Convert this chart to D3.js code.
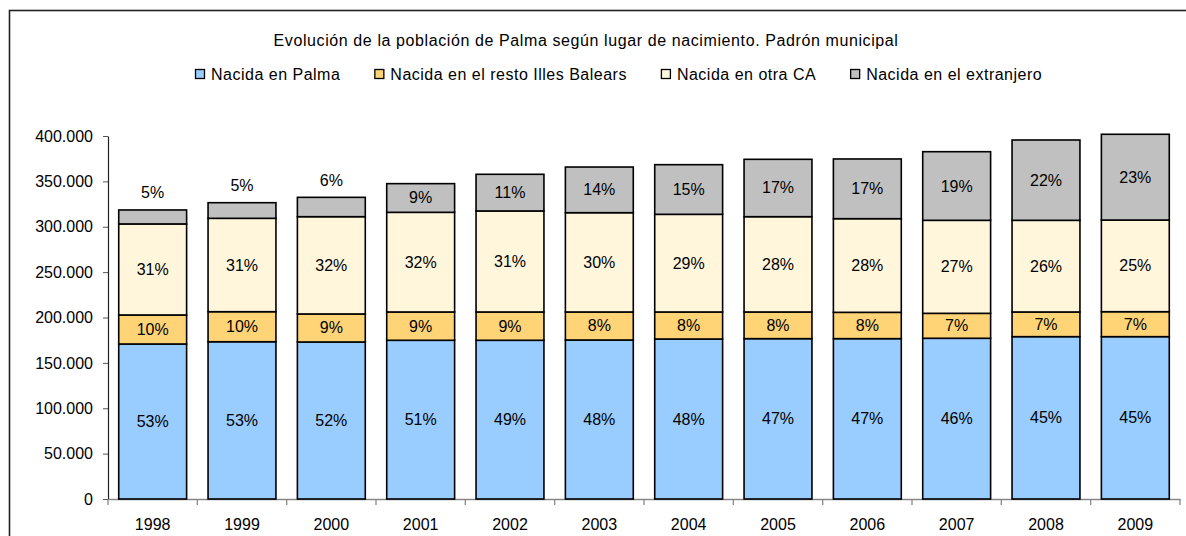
<!DOCTYPE html>
<html>
<head>
<meta charset="utf-8">
<script src="https://cdn.jsdelivr.net/npm/d3@7"></script>
<style>
  body { margin: 0; background: #fff; }
  text { font-family: "Liberation Sans", Arial, sans-serif; fill: #000; }
</style>
</head>
<body>
<div id="chart"></div>
<script>
// Plot constants
const WIDTH = 1186;
const HEIGHT = 536;

// data (inhabitants)
const years = ["1998", "1999", "2000", "2001", "2002", "2003", "2004", "2005", "2006", "2007", "2008", "2009"];
const palma = [170800, 173300, 173000, 174900, 174900, 175200, 176300, 176700, 176700, 177100, 178900, 178900];
const baleares = [32000, 33100, 30900, 31200, 31200, 30900, 29800, 29400, 29000, 27500, 27200, 27500];
const otraCA = [100300, 102900, 107200, 109800, 111300, 109400, 107600, 105000, 103200, 102500, 101000, 101000];
const extranjero = [15400, 17200, 21300, 31600, 40400, 50300, 54700, 63200, 65800, 75600, 88500, 94500];

// percent labels as printed in the chart
const pctPalma = [53, 53, 52, 51, 49, 48, 48, 47, 47, 46, 45, 45];
const pctBaleares = [10, 10, 9, 9, 9, 8, 8, 8, 8, 7, 7, 7];
const pctOtraCA = [31, 31, 32, 32, 31, 30, 29, 28, 28, 27, 26, 25];
const pctExtranjero = [5, 5, 6, 9, 11, 14, 15, 17, 17, 19, 22, 23];

const yTicks = [0, 50000, 100000, 150000, 200000, 250000, 300000, 350000, 400000];

const title = "Evolución de la población de Palma según lugar de nacimiento. Padrón municipal";
const series = [
  {key: "palma", name: "Nacida en Palma", color: "#99CCFF", values: palma, pct: pctPalma},
  {key: "baleares", name: "Nacida en el resto Illes Balears", color: "#FFD477", values: baleares, pct: pctBaleares},
  {key: "otraCA", name: "Nacida en otra CA", color: "#FFF6DC", values: otraCA, pct: pctOtraCA},
  {key: "extranjero", name: "Nacida en el extranjero", color: "#C0C0C0", values: extranjero, pct: pctExtranjero},
];

const rows = years.map((yr, i) => {
  const r = {year: yr};
  series.forEach((s) => (r[s.key] = s.values[i]));
  return r;
});

const svg = d3
  .select("#chart")
  .append("svg")
  .attr("width", WIDTH)
  .attr("height", HEIGHT);

// frame of the chart area
svg.append("rect")
  .attr("x", 9.5)
  .attr("y", 10.5)
  .attr("width", WIDTH + 20)
  .attr("height", HEIGHT + 20)
  .attr("fill", "none")
  .attr("stroke", "#222")
  .attr("stroke-width", 1.6);

// scales
const x = d3.scaleBand()
  .domain(years)
  .range([108, 1180])
  .paddingInner(0.24)
  .paddingOuter(0.12);

const y = d3.scaleLinear().domain([0, 400000]).range([499, 136]);

const locale = d3.formatLocale({decimal: ",", thousands: ".", grouping: [3], currency: ["", "€"]});
const fmt = locale.format(",");

// title
svg.append("text")
  .attr("x", 586)
  .attr("y", 46)
  .attr("text-anchor", "middle")
  .attr("font-size", "16px")
  .attr("letter-spacing", "0.6px")
  .text(title);

// legend
const legend = svg.append("g").attr("transform", "translate(195,0)");
let lx = 0;
series.forEach((s) => {
  legend.append("rect")
    .attr("x", lx + 0.5)
    .attr("y", 69.5)
    .attr("width", 9)
    .attr("height", 9)
    .attr("fill", s.color)
    .attr("stroke", "#000")
    .attr("stroke-width", 1.3);
  const t = legend.append("text")
    .attr("x", lx + 16)
    .attr("y", 80)
    .attr("font-size", "16px")
    .attr("letter-spacing", "0.5px")
    .text(s.name);
  lx += 16 + t.node().getComputedTextLength() + 34;
});

// y axis
const yAxis = d3.axisLeft(y)
  .tickValues(yTicks)
  .tickFormat((d) => fmt(d))
  .tickSize(5)
  .tickSizeOuter(0)
  .tickPadding(10);

const gy = svg.append("g")
  .attr("transform", "translate(108,0)")
  .call(yAxis);
gy.select(".domain").attr("stroke", "#222").attr("stroke-width", 1.2);
gy.selectAll(".tick line").attr("stroke", "#555");
gy.selectAll(".tick text")
  .attr("font-size", "16px")
  .attr("font-family", "Liberation Sans, Arial, sans-serif")
  .attr("fill", "#000");

// x axis: labels, then ticks at category boundaries
const xAxis = d3.axisBottom(x).tickSize(0).tickPadding(20);
const gx = svg.append("g")
  .attr("transform", "translate(0,499)")
  .call(xAxis);
gx.select(".domain").attr("stroke", "#888").attr("stroke-width", 1.5);
gx.selectAll(".tick text")
  .attr("font-size", "16px")
  .attr("font-family", "Liberation Sans, Arial, sans-serif")
  .attr("fill", "#000");

const edges = d3.range(years.length + 1).map((i) => x.range()[0] + i * x.step());
gx.selectAll(".edge")
  .data(edges)
  .enter()
  .append("line")
  .attr("class", "edge")
  .attr("x1", (d) => d)
  .attr("x2", (d) => d)
  .attr("y1", 0)
  .attr("y2", 6)
  .attr("stroke", "#888")
  .attr("stroke-width", 1.3);

// stacked bars
const stacked = d3.stack().keys(series.map((s) => s.key))(rows);

const layers = svg.append("g")
  .selectAll("g")
  .data(stacked)
  .enter()
  .append("g")
  .attr("fill", (d, i) => series[i].color);

layers.selectAll("rect")
  .data((d) => d)
  .enter()
  .append("rect")
  .attr("x", (d) => x(d.data.year))
  .attr("y", (d) => y(d[1]))
  .attr("width", x.bandwidth())
  .attr("height", (d) => y(d[0]) - y(d[1]))
  .attr("stroke", "#000")
  .attr("stroke-width", 1.6);

// percent labels
const labels = svg.append("g");
stacked.forEach((layer, si) => {
  layer.forEach((d, i) => {
    const top = y(d[1]);
    const h = y(d[0]) - top;
    const above = h < 22;
    labels.append("text")
      .attr("x", x(d.data.year) + x.bandwidth() / 2)
      .attr("y", above ? top - 17 : top + h / 2)
      .attr("text-anchor", "middle")
      .attr("dominant-baseline", "central")
      .attr("font-size", "16px")
      .text(series[si].pct[i] + "%");
  });
});
</script>
</body>
</html>
